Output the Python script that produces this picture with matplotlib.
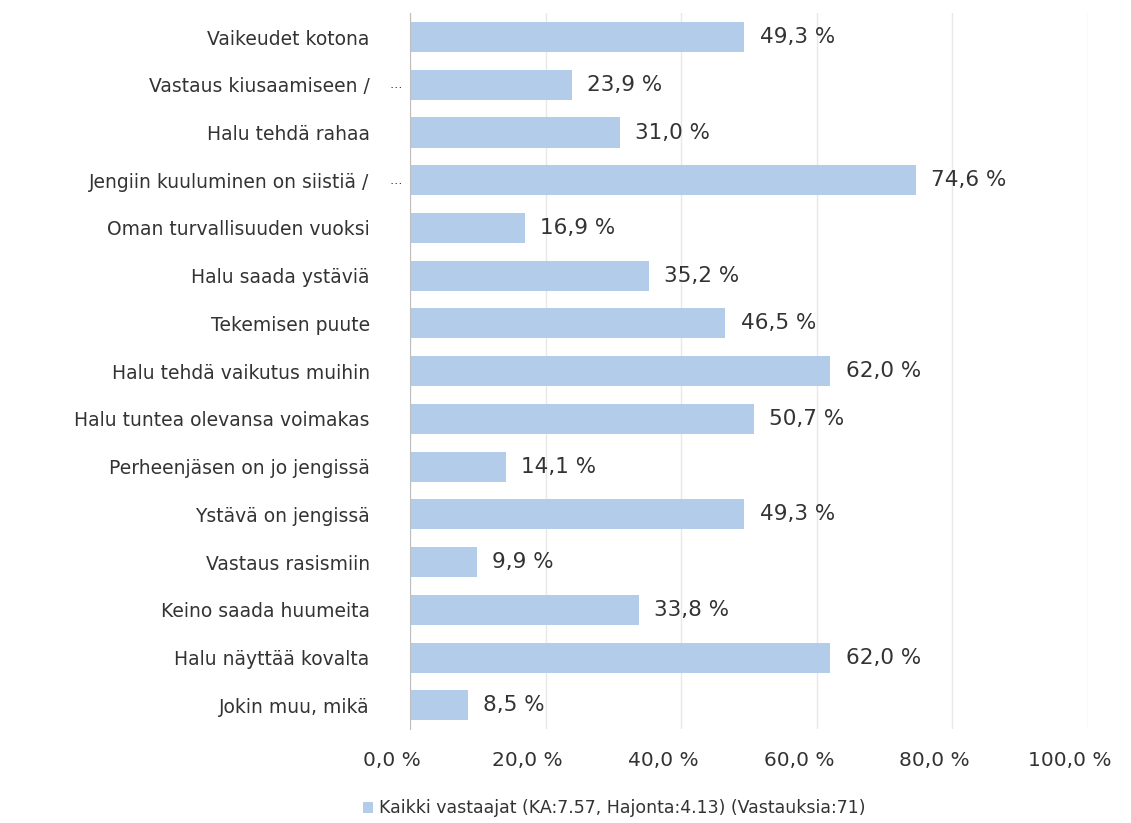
import matplotlib
matplotlib.use("Agg")
import matplotlib.pyplot as plt
from matplotlib.patches import Patch
from matplotlib.transforms import ScaledTranslation

categories = [
    "Vaikeudet kotona",
    "Vastaus kiusaamiseen /",
    "Halu tehdä rahaa",
    "Jengiin kuuluminen on siistiä /",
    "Oman turvallisuuden vuoksi",
    "Halu saada ystäviä",
    "Tekemisen puute",
    "Halu tehdä vaikutus muihin",
    "Halu tuntea olevansa voimakas",
    "Perheenjäsen on jo jengissä",
    "Ystävä on jengissä",
    "Vastaus rasismiin",
    "Keino saada huumeita",
    "Halu näyttää kovalta",
    "Jokin muu, mikä",
]
values = [49.3, 23.9, 31.0, 74.6, 16.9, 35.2, 46.5, 62.0, 50.7, 14.1, 49.3, 9.9, 33.8, 62.0, 8.5]
truncated = [False, True, False, True, False, False, False, False, False, False, False, False, False, False, False]
xticks = [0, 20, 40, 60, 80, 100]
xtick_labels = ["0,0 %", "20,0 %", "40,0 %", "60,0 %", "80,0 %", "100,0 %"]
legend_label = "Kaikki vastaajat (KA:7.57, Hajonta:4.13) (Vastauksia:71)"

bar_color = "#b3cce9"
text_color = "#333333"

fig = plt.figure(figsize=(11.31, 8.23), dpi=100)
ax = fig.add_axes([0.3625, 0.114, 0.5995, 0.870])

y = list(range(len(categories)))
ax.barh(y, values, height=0.63, color=bar_color, zorder=2)
ax.set_ylim(len(categories) - 0.5, -0.5)
ax.set_xlim(0, 100)

ax.set_yticks(y)
ax.set_yticklabels(categories, fontsize=13.5, color=text_color, family="DejaVu Sans")
ax.tick_params(axis="y", length=0, pad=29)

ax.set_xticks(xticks)
ax.set_xticklabels(xtick_labels, fontsize=14.5, color=text_color, family="DejaVu Sans")
ax.tick_params(axis="x", length=0, pad=16)
off = ScaledTranslation(-13 / 72, 0, fig.dpi_scale_trans)
for lab in ax.get_xticklabels():
    lab.set_transform(lab.get_transform() + off)

ax.grid(axis="x", color="#e8e8e8", linewidth=1, zorder=0)
for s in ["top", "right", "bottom"]:
    ax.spines[s].set_visible(False)
ax.spines["left"].set_color("#bfbfbf")
ax.spines["left"].set_zorder(3)

for i, (v, t) in enumerate(zip(values, truncated)):
    lbl = f"{v:.1f}".replace(".", ",") + " %"
    ax.annotate(lbl, xy=(v, i), xytext=(11, 0), textcoords="offset points",
                va="center", ha="left", fontsize=15.5, color=text_color,
                family="DejaVu Sans")
    if t:
        ax.annotate("…", xy=(0, i), xytext=(-6, 0), textcoords="offset points",
                    va="center", ha="right", fontsize=9, color=text_color)

handle = Patch(facecolor=bar_color, edgecolor="none")
fig.legend([handle], [legend_label], loc="center", bbox_to_anchor=(0.543, 0.018),
           frameon=False, fontsize=12.5, handlelength=0.6, handleheight=0.6,
           handletextpad=0.3, labelcolor=text_color)

fig.savefig("out.png", dpi=100, facecolor="white")
